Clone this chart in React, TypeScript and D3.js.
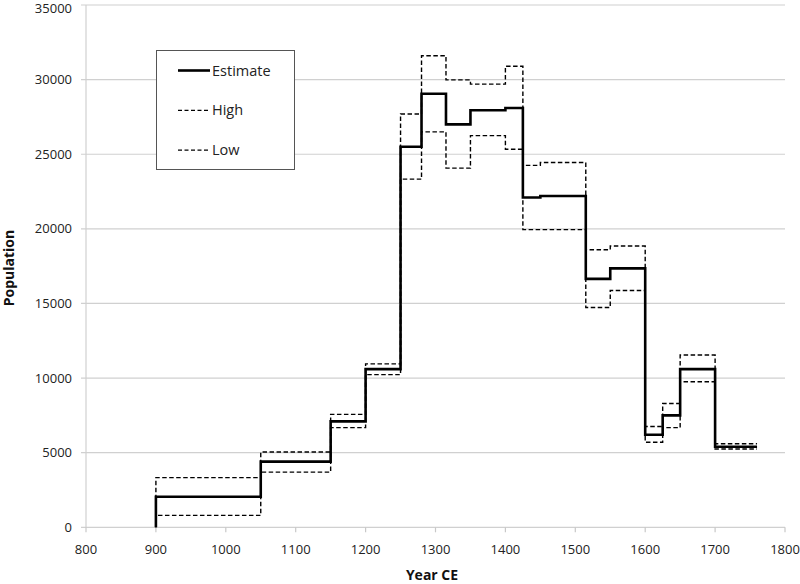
import React from "react";
import * as d3 from "d3";

const years = [900, 1050, 1150, 1200, 1250, 1280, 1315, 1350, 1400, 1425, 1450, 1515, 1550, 1600, 1625, 1650, 1700, 1760];
const estimate = [2050, 4400, 7100, 10600, 25500, 29050, 27000, 27950, 28100, 22100, 22200, 16650, 17350, 6200, 7500, 10600, 5400];
const high = [3330, 5050, 7570, 10950, 27700, 31600, 29980, 29700, 30900, 24250, 24450, 18600, 18850, 6750, 8300, 11550, 5600];
const low = [800, 3700, 6680, 10230, 23330, 26500, 24070, 26250, 25330, 19950, 19950, 14730, 15870, 5700, 6680, 9750, 5250];
const xTicks = [800, 900, 1000, 1100, 1200, 1300, 1400, 1500, 1600, 1700, 1800];
const yTicks = [0, 5000, 10000, 15000, 20000, 25000, 30000, 35000];
const legendNames = ["Estimate", "High", "Low"];

const FONT = "'Open Sans', 'Liberation Sans', sans-serif";

function stepPoints(vals: number[]): [number, number][] {
  const pts: [number, number][] = [[years[0], 0]];
  vals.forEach((v, i) => pts.push([years[i], v]));
  pts.push([years[years.length - 1], vals[vals.length - 1]]);
  return pts;
}

export default function App() {
  if (typeof document !== "undefined") document.body.style.margin = "0";
  const W = 800, H = 584;
  const x = d3.scaleLinear().domain([800, 1800]).range([86, 785]);
  const y = d3.scaleLinear().domain([0, 35000]).range([527.3, 5]);
  const line = d3
    .line<[number, number]>()
    .x((d) => x(d[0]))
    .y((d) => y(d[1]))
    .curve(d3.curveStepAfter);

  const series = [
    { name: "High", vals: high, width: 1.4, dash: "4.5,2.5" },
    { name: "Low", vals: low, width: 1.4, dash: "4.5,2.5" },
    { name: "Estimate", vals: estimate, width: 2.6, dash: undefined as string | undefined },
  ];
  const legendStyle: Record<string, { width: number; dash?: string }> = {
    Estimate: { width: 2.6 },
    High: { width: 1.3, dash: "4,2.5" },
    Low: { width: 1.3, dash: "4,2.5" },
  };

  return (
    <svg width={W} height={H} style={{ display: "block", background: "#fff" }} fontFamily={FONT}>
      {yTicks.map((t) => (
        <g key={"g" + t}>
          <line x1={81} x2={785} y1={y(t)} y2={y(t)} stroke="#d0d0d0" strokeWidth={1.2} />
          <text x={72} y={Math.max(y(t), 8)} dy="0.35em" textAnchor="end" fontSize={13} fill="#222">
            {t}
          </text>
        </g>
      ))}
      <line x1={x(800)} x2={x(800)} y1={y(35000)} y2={y(0)} stroke="#d0d0d0" strokeWidth={1.2} />
      {xTicks.map((t) => (
        <g key={"x" + t}>
          <line x1={x(t)} x2={x(t)} y1={y(0)} y2={y(0) + 5} stroke="#c8c8c8" strokeWidth={1.2} />
          <text x={x(t)} y={549} dy="0.35em" textAnchor="middle" fontSize={13} fill="#222">
            {t}
          </text>
        </g>
      ))}
      {series.map((s) => (
        <path
          key={s.name}
          d={line(stepPoints(s.vals)) || ""}
          fill="none"
          stroke="#000"
          strokeWidth={s.width}
          strokeDasharray={s.dash}
        />
      ))}
      <rect x={156.5} y={50.5} width={138} height={119} fill="#fff" stroke="#555" strokeWidth={1} />
      {legendNames.map((n, i) => {
        const ly = 70.5 + i * 39.8;
        const st = legendStyle[n];
        return (
          <g key={n}>
            <line x1={178} x2={210} y1={ly} y2={ly} stroke="#000" strokeWidth={st.width} strokeDasharray={st.dash} />
            <text x={212} y={ly} dy="0.35em" fontSize={14.5} fill="#222">
              {n}
            </text>
          </g>
        );
      })}
      <text x={432} y={575} dy="0.35em" textAnchor="middle" fontSize={14} fontWeight="bold" fill="#111">
        Year CE
      </text>
      <text
        transform={`translate(9,268) rotate(-90)`}
        dy="0.35em"
        textAnchor="middle"
        fontSize={14}
        fontWeight="bold"
        fill="#111"
      >
        Population
      </text>
    </svg>
  );
}
